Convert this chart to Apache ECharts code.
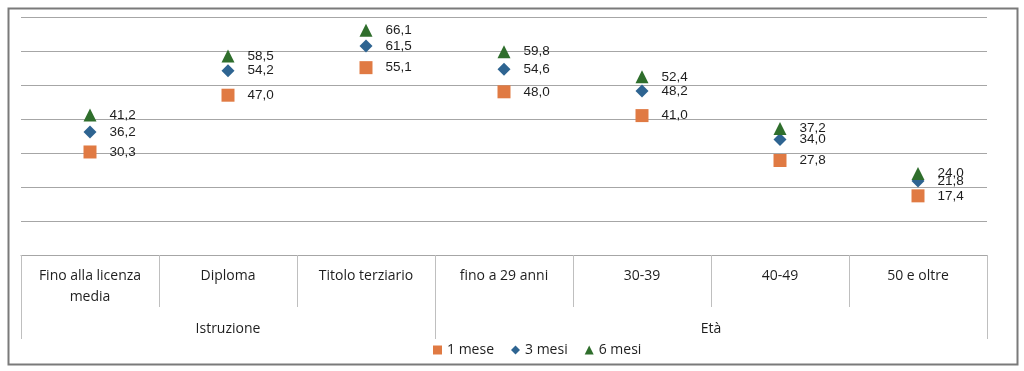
<!DOCTYPE html>
<html>
<head>
<meta charset="utf-8">
<script src="https://cdn.jsdelivr.net/npm/echarts@6/dist/echarts.min.js"></script>
<style>
html,body{margin:0;padding:0;background:#fff;}
#chart{width:1024px;height:371px;}
</style>
</head>
<body>
<div id="chart"></div>
<script>
const categories = ['Fino alla licenza\nmedia', 'Diploma', 'Titolo terziario', 'fino a 29 anni', '30-39', '40-49', '50 e oltre'];
const groups = ['Istruzione', 'Età'];
const groupSpans = [3, 4];
const seriesNames = ['1 mese', '3 mesi', '6 mesi'];
const mese1 = [30.3, 47.0, 55.1, 48.0, 41.0, 27.8, 17.4];
const mesi3 = [36.2, 54.2, 61.5, 54.6, 48.2, 34.0, 21.8];
const mesi6 = [41.2, 58.5, 66.1, 59.8, 52.4, 37.2, 24.0];

const symbols = ['rect', 'diamond', 'triangle'];
const colors = ['#E07A43', '#2E6491', '#2F6E2C'];
const values = [mese1, mesi3, mesi6];

// group boundaries and centers in half-category units
const bounds = [0];
groupSpans.forEach(s => bounds.push(bounds[bounds.length - 1] + s * 2));
const centers = groupSpans.map((s, i) => bounds[i] + s);
const total = bounds[bounds.length - 1];

const fmt = v => v.toFixed(1).replace('.', ',');
const gridRect = {left: 21, right: 37, top: 17, bottom: 116};
const txt = '#1e1e1e';

const chart = echarts.init(document.getElementById('chart'), null, {renderer: 'canvas'});
chart.setOption({
  animation: false,
  graphic: [{
    type: 'rect', left: 6, top: 6, z: 100,
    shape: {width: 1009, height: 356},
    style: {fill: 'none', stroke: '#7A7A7A', lineWidth: 2}
  }],
  grid: [Object.assign({}, gridRect), Object.assign({}, gridRect)],
  legend: {
    left: 428, top: 338,
    itemWidth: 9, itemHeight: 9, itemGap: 17,
    textStyle: {fontSize: 14, color: txt, fontFamily: 'Open Sans'},
    data: seriesNames.map((n, i) => ({name: n, icon: symbols[i]}))
  },
  xAxis: [{
    type: 'category', gridIndex: 0, data: categories, boundaryGap: true,
    axisLine: {lineStyle: {color: '#A6A6A6', width: 1}},
    axisTick: {show: true, interval: 0, length: 52, lineStyle: {color: '#BFBFBF'}},
    axisLabel: {interval: 0, fontSize: 14, lineHeight: 21, margin: 11, color: txt, fontFamily: 'Open Sans'},
    splitLine: {show: false}
  }, {
    type: 'value', gridIndex: 1, min: 0, max: total, position: 'bottom',
    axisLine: {show: false},
    axisTick: {show: true, customValues: bounds, length: 84, lineStyle: {color: '#BFBFBF'}},
    axisLabel: {
      customValues: centers, margin: 67, fontSize: 14, color: txt, fontFamily: 'Open Sans',
      formatter: v => groups[centers.indexOf(v)] || ''
    },
    splitLine: {show: false}
  }],
  yAxis: [{
    type: 'value', gridIndex: 0, min: 0, max: 70, interval: 10,
    axisLabel: {show: false}, axisLine: {show: false}, axisTick: {show: false},
    splitLine: {lineStyle: {color: '#A6A6A6', width: 1}}
  }, {
    type: 'value', gridIndex: 1, min: 0, max: 70, show: false
  }],
  series: seriesNames.map((n, i) => ({
    name: n, type: 'scatter', xAxisIndex: 0, yAxisIndex: 0,
    symbol: symbols[i], symbolSize: 13,
    itemStyle: {color: colors[i], opacity: 1},
    label: {
      show: true, position: 'right', distance: 13,
      formatter: p => fmt(p.value), fontSize: 13.5, color: txt, fontFamily: 'Liberation Sans'
    },
    data: values[i]
  }))
});
</script>
</body>
</html>
